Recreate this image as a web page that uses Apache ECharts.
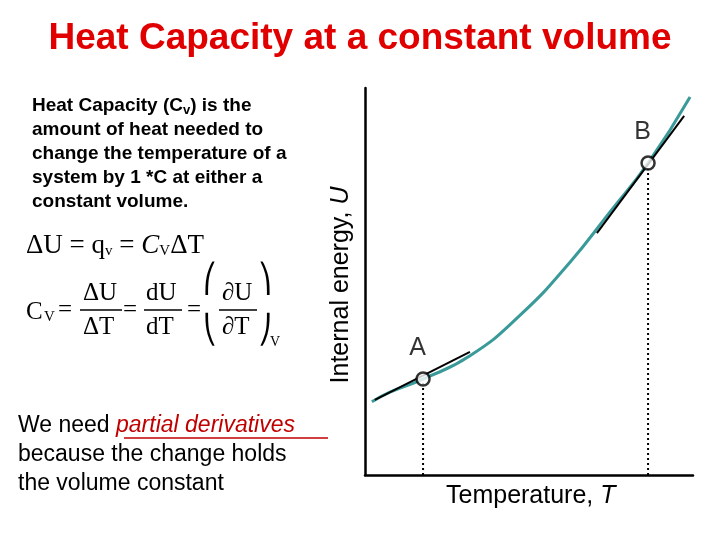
<!DOCTYPE html>
<html><head><meta charset="utf-8">
<script src="https://cdn.jsdelivr.net/npm/echarts@6/dist/echarts.min.js"></script>
<style>html,body{margin:0;padding:0;background:#fff}#c{width:720px;height:540px}</style>
</head><body><div id="c"></div>
<script>
const curveX = [2.1, 7.6, 17.7, 32.0, 47.3, 62.5, 74.7, 86.3, 99.1];
const curveY = [18.9, 21.4, 24.8, 30.8, 41.3, 55.0, 68.0, 80.6, 97.7];
const pointNames = ['A', 'B'];
const pointX = [17.7, 86.3];
const pointY = [24.8, 80.6];
const tangentA = [[3.0, 19.4], [32.0, 31.8]];
const tangentB = [[70.7, 62.5], [97.3, 92.8]];

const chart = echarts.init(document.getElementById('c'));
const F = 'Liberation Sans, Arial, sans-serif';
const T = 'Liberation Serif, Times New Roman, serif';
const txt = (x, y, s, o) => Object.assign({type:'text', left:x, top:y, style:Object.assign({text:s, fill:'#000', font:'bold 19px '+F}, o||{})});
const ln = (x1,y1,x2,y2,c) => ({type:'line', shape:{x1,y1,x2,y2}, style:{stroke:c||'#000', lineWidth:1.3}});
const series = [
  {type:'line', smooth:true, symbol:'none', data:curveX.map((x,i)=>[x,curveY[i]]), lineStyle:{color:'#3a9a9a', width:3}, z:2},
  {type:'line', symbol:'none', data:tangentA, lineStyle:{color:'#000', width:2}, z:3},
  {type:'line', symbol:'none', data:tangentB, lineStyle:{color:'#000', width:2}, z:3},
];
pointX.forEach((x,i)=>{
  series.push({type:'line', symbol:'none', data:[[x,0],[x,pointY[i]]], lineStyle:{color:'#000', width:2, type:[2,3]}, z:1});
});
series.push({type:'scatter', data:pointX.map((x,i)=>({value:[x,pointY[i]], name:pointNames[i]})),
  symbol:'circle', symbolSize:13, itemStyle:{color:'#fff', borderColor:'#000', borderWidth:2.5}, z:5,
  label:{show:true, formatter:'{b}', position:[-6,-36], fontSize:25, fontFamily:F, color:'#000'}});

chart.setOption({
  animation:false,
  grid:{left:365, top:88, width:328, height:387},
  xAxis:{type:'value', min:0, max:100, axisLine:{lineStyle:{color:'#000', width:2.5}}, axisTick:{show:false}, axisLabel:{show:false}, splitLine:{show:false}},
  yAxis:{type:'value', min:0, max:100, axisLine:{show:true, lineStyle:{color:'#000', width:2.5}}, axisTick:{show:false}, axisLabel:{show:false}, splitLine:{show:false}},
  series,
  graphic:[
    {type:'text', left:'center', top:20, style:{text:'Heat Capacity at a constant volume', fill:'#e00000', font:'bold 37px '+F}},
    {type:'text', left:32, top:96, style:{rich:{a:{font:'bold 19px '+F, fill:'#000'}, s:{font:'bold 13px '+F, fill:'#000', padding:[10,0,0,0]}},
      text:'{a|Heat Capacity (C}{s|v}{a|) is the}', fill:'#000'}},
    txt(32,120,'amount of heat needed to'),
    txt(32,144,'change the temperature of a'),
    txt(32,168,'system by 1 *C at either a'),
    txt(32,192,'constant volume.'),
    {type:'text', left:26, top:232, style:{rich:{n:{font:'27px '+T, fill:'#000'}, i:{font:'italic 27px '+T, fill:'#000'}, s:{font:'15px '+T, fill:'#000', padding:[12,0,0,0]}},
      text:'{n|ΔU = q}{s|v}{n| = }{i|C}{s|V}{n|ΔT}'}},
    txt(26,300,'C', {font:'25px '+T}), txt(44,310,'V', {font:'15px '+T}),
    txt(58,298,'=', {font:'25px '+T}),
    txt(83,281,'ΔU', {font:'25px '+T}), ln(80,310,122,310), txt(83,315,'ΔT', {font:'25px '+T}),
    txt(123,298,'=', {font:'25px '+T}),
    txt(146,281,'dU', {font:'25px '+T}), ln(144,310,182,310), txt(146,315,'dT', {font:'25px '+T}),
    txt(187,298,'=', {font:'25px '+T}),
    txt(203,267,'⎛', {font:'28px '+T}), txt(203,318,'⎝', {font:'28px '+T}),
    txt(222,281,'∂U', {font:'25px '+T}), ln(219,310,257,310), txt(222,315,'∂T', {font:'25px '+T}),
    txt(258,267,'⎞', {font:'28px '+T}), txt(258,318,'⎠', {font:'28px '+T}),
    txt(270,335,'V', {font:'14px '+T}),
    {type:'text', left:18, top:414, style:{rich:{a:{font:'23px '+F, fill:'#000'}, r:{font:'italic 23px '+F, fill:'#c00000'}},
      text:'{a|We need }{r|partial derivatives}'}},
    ln(124,438,328,438,'#c00000'),
    txt(18,443,'because the change holds', {font:'23px '+F}),
    txt(18,472,'the volume constant', {font:'23px '+F}),
    {type:'text', left:446, top:484, style:{rich:{a:{font:'25px '+F, fill:'#000'}, i:{font:'italic 25px '+F, fill:'#000'}}, text:'{a|Temperature, }{i|T}'}},
    {type:'text', x:341, y:285, rotation:Math.PI/2, style:{rich:{a:{font:'25px '+F, fill:'#000'}, i:{font:'italic 25px '+F, fill:'#000'}}, text:'{a|Internal energy, }{i|U}', align:'center', verticalAlign:'middle'}}
  ]
});
</script></body></html>
